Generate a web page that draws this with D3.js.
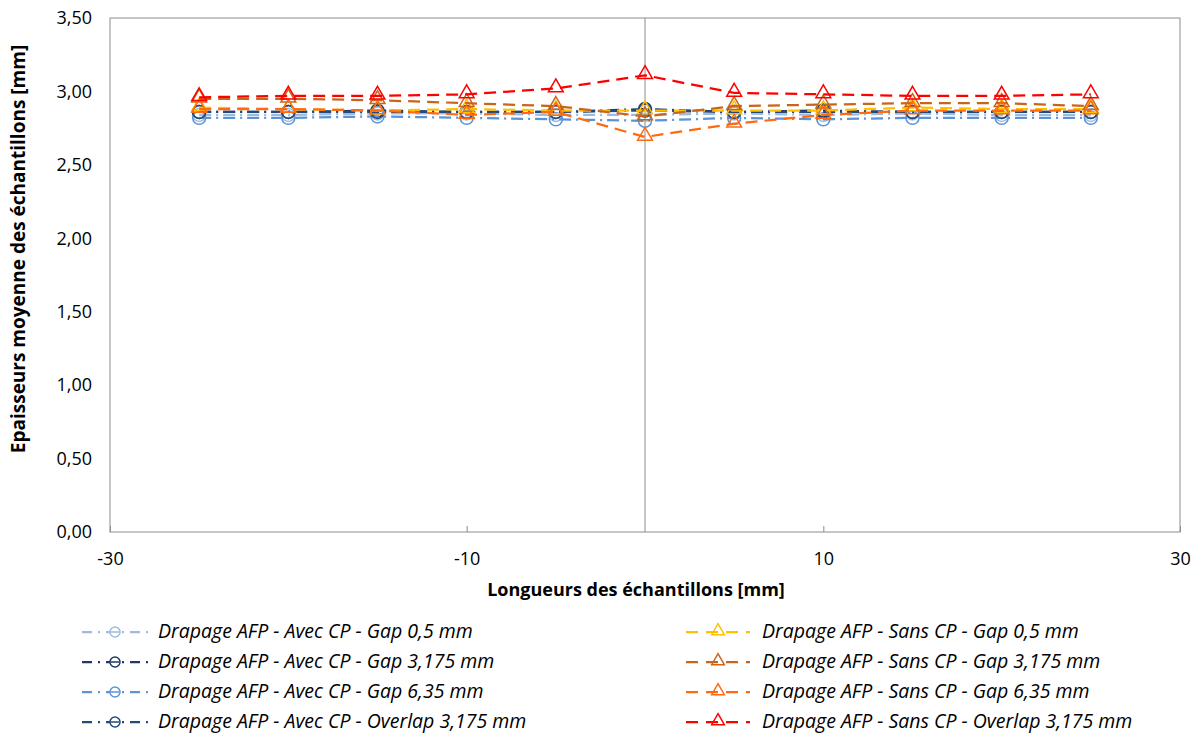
<!DOCTYPE html>
<html>
<head>
<meta charset="utf-8">
<script src="https://cdn.jsdelivr.net/npm/d3@7"></script>
<style>
  body { margin: 0; background: #fff; }
  text { font-family: "Open Sans", "Noto Sans", sans-serif; fill: #000; }
</style>
</head>
<body>
<div id="container"></div>
<script>
/* CONSTANTS AND GLOBALS */
const width = 1200,
  height = 736,
  margin = { top: 18, bottom: 204, left: 110, right: 20 };

// positions along the sample (mm)
const positions = [-25, -20, -15, -10, -5, 0, 5, 10, 15, 20, 25];
const xTicks = [-30, -10, 10, 30];
const yTicks = [0, 0.5, 1, 1.5, 2, 2.5, 3, 3.5];

// mean thickness values (mm)
const avecGap05 = [2.84, 2.84, 2.85, 2.85, 2.84, 2.84, 2.85, 2.84, 2.85, 2.84, 2.84];
const avecGap3175 = [2.86, 2.86, 2.87, 2.86, 2.86, 2.88, 2.86, 2.87, 2.86, 2.86, 2.86];
const avecGap635 = [2.82, 2.82, 2.83, 2.82, 2.81, 2.80, 2.82, 2.81, 2.82, 2.82, 2.82];
const avecOverlap = [2.86, 2.86, 2.86, 2.86, 2.86, 2.87, 2.86, 2.86, 2.86, 2.86, 2.86];
const sansGap05 = [2.89, 2.88, 2.87, 2.88, 2.87, 2.87, 2.87, 2.87, 2.89, 2.88, 2.88];
const sansGap3175 = [2.95, 2.95, 2.94, 2.92, 2.90, 2.83, 2.90, 2.91, 2.92, 2.92, 2.90];
const sansGap635 = [2.88, 2.88, 2.87, 2.84, 2.86, 2.69, 2.78, 2.84, 2.87, 2.87, 2.87];
const sansOverlap = [2.96, 2.97, 2.97, 2.98, 3.02, 3.11, 2.99, 2.98, 2.97, 2.97, 2.98];

const seriesNames = [
  "Drapage AFP - Avec CP - Gap 0,5 mm",
  "Drapage AFP - Avec CP - Gap 3,175 mm",
  "Drapage AFP - Avec CP - Gap 6,35 mm",
  "Drapage AFP - Avec CP - Overlap 3,175 mm",
  "Drapage AFP - Sans CP - Gap 0,5 mm",
  "Drapage AFP - Sans CP - Gap 3,175 mm",
  "Drapage AFP - Sans CP - Gap 6,35 mm",
  "Drapage AFP - Sans CP - Overlap 3,175 mm"
];
const seriesValues = [avecGap05, avecGap3175, avecGap635, avecOverlap,
  sansGap05, sansGap3175, sansGap635, sansOverlap];
const seriesColors = ["#9DBBE0", "#1F3864", "#5B93D8", "#254A7A",
  "#FFC000", "#C8651B", "#FF6A10", "#FF0000"];

const dashDot = "12,5,2,5";
const dashed = "12,7";

const series = seriesNames.map((name, i) => ({
  name,
  color: seriesColors[i],
  avec: i < 4,
  values: seriesValues[i].map((v, j) => ({ x: positions[j], y: v }))
}));

const formatComma = d => d3.format(".2f")(d).replace(".", ",");

/* SVG */
const svg = d3.select("#container").append("svg")
  .attr("width", width)
  .attr("height", height);

const xScale = d3.scaleLinear()
  .domain([-30, 30])
  .range([margin.left, width - margin.right]);

const yScale = d3.scaleLinear()
  .domain([0, 3.5])
  .range([height - margin.bottom, margin.top]);

// plot area border
svg.append("rect")
  .attr("x", xScale(-30))
  .attr("y", yScale(3.5))
  .attr("width", xScale(30) - xScale(-30))
  .attr("height", yScale(0) - yScale(3.5))
  .attr("fill", "none")
  .attr("stroke", "#8c8c8c")
  .attr("stroke-width", 1);

// vertical axis line at x = 0
svg.append("line")
  .attr("x1", xScale(0)).attr("x2", xScale(0))
  .attr("y1", yScale(0)).attr("y2", yScale(3.5))
  .attr("stroke", "#8c8c8c");

// x axis ticks + labels
const xAxis = d3.axisBottom(xScale)
  .tickValues(xTicks)
  .tickFormat(d => String(d))
  .tickSizeInner(-6)
  .tickSizeOuter(0)
  .tickPadding(20);

const xAxisGroup = svg.append("g")
  .attr("transform", `translate(0, ${yScale(0)})`)
  .call(xAxis);
xAxisGroup.select(".domain").remove();
xAxisGroup.selectAll("line").attr("stroke", "#8c8c8c");
xAxisGroup.selectAll("text").style("font-size", "18px").attr("fill", "#000");

// y axis labels (low position, on the left)
const yAxis = d3.axisLeft(yScale)
  .tickValues(yTicks)
  .tickFormat(formatComma)
  .tickSize(0)
  .tickPadding(18);

const yAxisGroup = svg.append("g")
  .attr("transform", `translate(${xScale(-30)}, 0)`)
  .call(yAxis);
yAxisGroup.select(".domain").remove();
yAxisGroup.selectAll("text").style("font-size", "18px").attr("fill", "#000");

// axis titles
svg.append("text")
  .attr("x", 636)
  .attr("y", 596)
  .attr("text-anchor", "middle")
  .style("font-size", "18px")
  .style("font-weight", "bold")
  .text("Longueurs des échantillons [mm]");

svg.append("text")
  .attr("transform", `translate(25, 249) rotate(-90)`)
  .attr("text-anchor", "middle")
  .style("font-size", "19px")
  .style("font-weight", "bold")
  .text("Epaisseurs moyenne des échantillons [mm]");

// lines
const lineGen = d3.line()
  .x(d => xScale(d.x))
  .y(d => yScale(d.y));

const triangle = d3.symbol().type(d3.symbolTriangle).size(95);
const triangleSmall = d3.symbol().type(d3.symbolTriangle).size(70);

const groups = svg.selectAll(".series")
  .data(series)
  .join("g")
  .attr("class", "series");

groups.append("path")
  .attr("d", d => lineGen(d.values))
  .attr("fill", "none")
  .attr("stroke", d => d.color)
  .attr("stroke-width", 2.25)
  .attr("stroke-dasharray", d => d.avec ? dashDot : dashed);

groups.each(function (s) {
  const g = d3.select(this);
  if (s.avec) {
    g.selectAll("circle")
      .data(s.values)
      .join("circle")
      .attr("cx", d => xScale(d.x))
      .attr("cy", d => yScale(d.y))
      .attr("r", 6.5)
      .attr("fill", "none")
      .attr("stroke", s.color)
      .attr("stroke-width", 1.5);
  } else {
    g.selectAll(".tri")
      .data(s.values)
      .join("path")
      .attr("class", "tri")
      .attr("transform", d => `translate(${xScale(d.x)}, ${yScale(d.y) - 1})`)
      .attr("d", triangle)
      .attr("fill", "none")
      .attr("stroke", s.color)
      .attr("stroke-width", 1.5);
  }
});

// legend
const legendRows = [632, 662, 692, 722];
series.forEach((s, i) => {
  const col = s.avec ? 0 : 1;
  const row = i % 4;
  const x0 = col === 0 ? 82 : 686;
  const x1 = col === 0 ? 148 : 750;
  const cy = legendRows[row];
  const lg = svg.append("g");
  lg.append("line")
    .attr("x1", x0).attr("x2", x1)
    .attr("y1", cy).attr("y2", cy)
    .attr("stroke", s.color)
    .attr("stroke-width", 2.25)
    .attr("stroke-dasharray", s.avec ? "10,6,2,6" : "12,8");
  if (s.avec) {
    lg.append("circle")
      .attr("cx", (x0 + x1) / 2).attr("cy", cy).attr("r", 5)
      .attr("fill", "#fff").attr("stroke", s.color).attr("stroke-width", 1.5);
    lg.append("line")
      .attr("x1", (x0 + x1) / 2 - 4).attr("x2", (x0 + x1) / 2 + 4)
      .attr("y1", cy).attr("y2", cy)
      .attr("stroke", s.color).attr("stroke-width", 1.5);
  } else {
    lg.append("path")
      .attr("transform", `translate(${(x0 + x1) / 2}, ${cy - 1})`)
      .attr("d", triangleSmall)
      .attr("fill", "none").attr("stroke", s.color).attr("stroke-width", 1.5);
  }
  lg.append("text")
    .attr("x", col === 0 ? 158 : 762)
    .attr("y", cy + 6)
    .style("font-size", "19.5px")
    .style("font-style", "italic")
    .text(s.name);
});
</script>
</body>
</html>
